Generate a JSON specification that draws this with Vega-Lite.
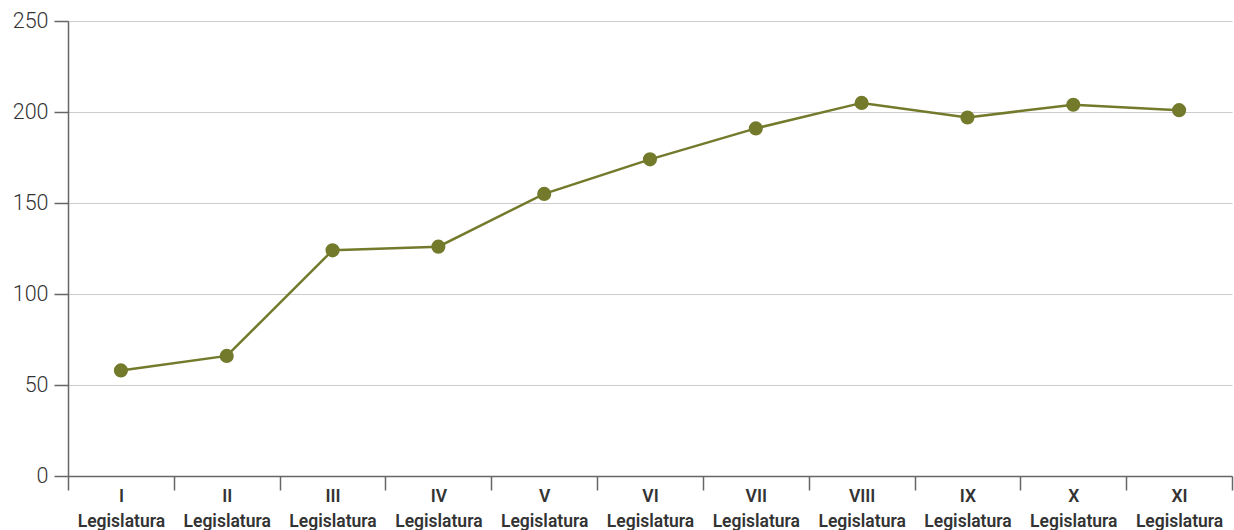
{
  "$schema": "https://vega.github.io/schema/vega-lite/v6.json",
  "autosize": {"type": "none"},
  "width": 1164,
  "height": 455,
  "padding": {"left": 68, "top": 21, "right": 2, "bottom": 54},
  "background": "white",
  "config": {"view": {"stroke": null}, "font": "Roboto"},
  "data": {
    "values": [
      {"leg": "I Legislatura", "value": 58},
      {"leg": "II Legislatura", "value": 66},
      {"leg": "III Legislatura", "value": 124},
      {"leg": "IV Legislatura", "value": 126},
      {"leg": "V Legislatura", "value": 155},
      {"leg": "VI Legislatura", "value": 174},
      {"leg": "VII Legislatura", "value": 191},
      {"leg": "VIII Legislatura", "value": 205},
      {"leg": "IX Legislatura", "value": 197},
      {"leg": "X Legislatura", "value": 204},
      {"leg": "XI Legislatura", "value": 201}
    ]
  },
  "encoding": {
    "x": {
      "field": "leg",
      "type": "nominal",
      "sort": null,
      "scale": {"type": "band", "paddingInner": 0, "paddingOuter": 0},
      "axis": {
        "title": null,
        "labelAngle": 0,
        "tickBand": "extent",
        "tickSize": 14,
        "tickColor": "#666666",
        "domainColor": "#666666",
        "domainWidth": 1.5,
        "tickWidth": 1.5,
        "grid": false,
        "labelExpr": "split(datum.label, ' ')",
        "labelFont": "Roboto",
        "labelFontSize": 17.5,
        "labelFontWeight": 600,
        "labelColor": "#333333",
        "labelLineHeight": 25,
        "labelPadding": -3,
        "labelBaseline": "top"
      }
    },
    "y": {
      "field": "value",
      "type": "quantitative",
      "scale": {"domain": [0, 250]},
      "axis": {
        "title": null,
        "values": [0, 50, 100, 150, 200, 250],
        "tickSize": 14,
        "tickColor": "#666666",
        "domainColor": "#666666",
        "domainWidth": 1.5,
        "tickWidth": 1.5,
        "gridColor": "#cccccc",
        "gridWidth": 1.2,
        "labelFont": "Roboto",
        "labelFontSize": 21.5,
        "labelFontWeight": 300,
        "labelColor": "#333333",
        "labelPadding": 6
      }
    }
  },
  "layer": [
    {"mark": {"type": "line", "color": "#737a2b", "strokeWidth": 2.5}},
    {"mark": {"type": "point", "filled": true, "opacity": 1, "color": "#737a2b", "size": 200}}
  ]
}
